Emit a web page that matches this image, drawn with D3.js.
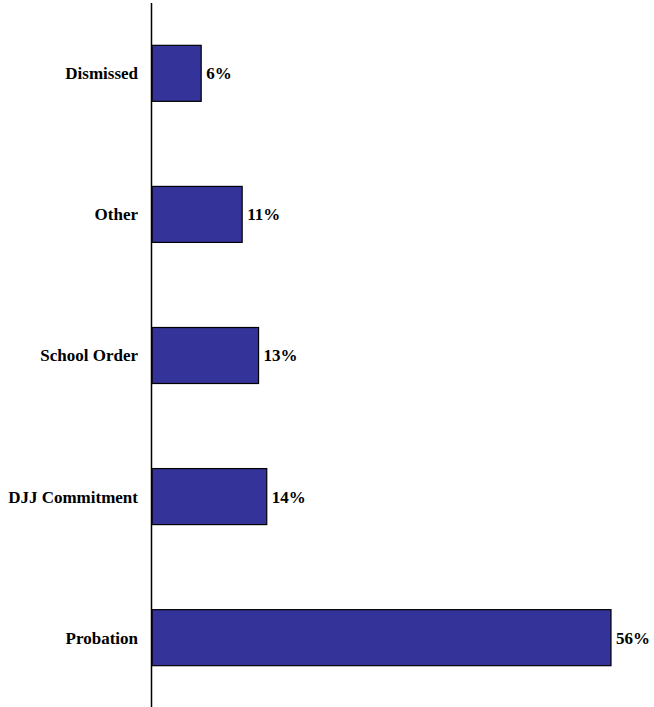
<!DOCTYPE html>
<html>
<head>
<meta charset="utf-8">
<script src="https://cdn.jsdelivr.net/npm/d3@7"></script>
<style>
  html, body { margin: 0; padding: 0; background: #fff; }
  svg { display: block; }
</style>
</head>
<body>
<svg id="chart" width="654" height="707"></svg>
<script>
const categories = ["Dismissed", "Other", "School Order", "DJJ Commitment", "Probation"];
const values = [6, 11, 13, 14, 56];
const valueLabels = ["6%", "11%", "13%", "14%", "56%"];

const FONT = "'Liberation Serif', 'Times New Roman', Times, 'DejaVu Serif', serif";
const svg = d3.select("#chart");
const axisX = 151.5;

const x = d3.scaleLinear().domain([0, 56]).range([152, 611]);
const y = d3.scaleBand().domain(categories).range([3, 708]).paddingInner(0.603).paddingOuter(0.3);

svg.selectAll("rect.bar")
  .data(categories)
  .join("rect")
  .attr("class", "bar")
  .attr("x", x(0))
  .attr("y", d => y(d))
  .attr("width", (d, i) => x(values[i]) - x(0))
  .attr("height", y.bandwidth())
  .attr("fill", "#333399")
  .attr("stroke", "#000")
  .attr("stroke-width", 1.2);

svg.append("line")
  .attr("x1", axisX).attr("x2", axisX)
  .attr("y1", 3).attr("y2", 707)
  .attr("stroke", "#000")
  .attr("stroke-width", 1.5);

svg.selectAll("text.cat")
  .data(categories)
  .join("text")
  .attr("class", "cat")
  .attr("x", 138)
  .attr("y", d => y(d) + y.bandwidth() / 2)
  .attr("dy", "0.35em")
  .attr("text-anchor", "end")
  .style("font-family", FONT)
  .style("font-weight", "bold")
  .style("font-size", "17px")
  .attr("fill", "#000")
  .text(d => d);

svg.selectAll("text.val")
  .data(categories)
  .join("text")
  .attr("class", "val")
  .attr("x", (d, i) => x(values[i]) + 5)
  .attr("y", d => y(d) + y.bandwidth() / 2)
  .attr("dy", "0.35em")
  .attr("text-anchor", "start")
  .style("font-family", FONT)
  .style("font-weight", "bold")
  .style("font-size", "17px")
  .attr("fill", "#000")
  .text((d, i) => valueLabels[i]);
</script>
</body>
</html>
